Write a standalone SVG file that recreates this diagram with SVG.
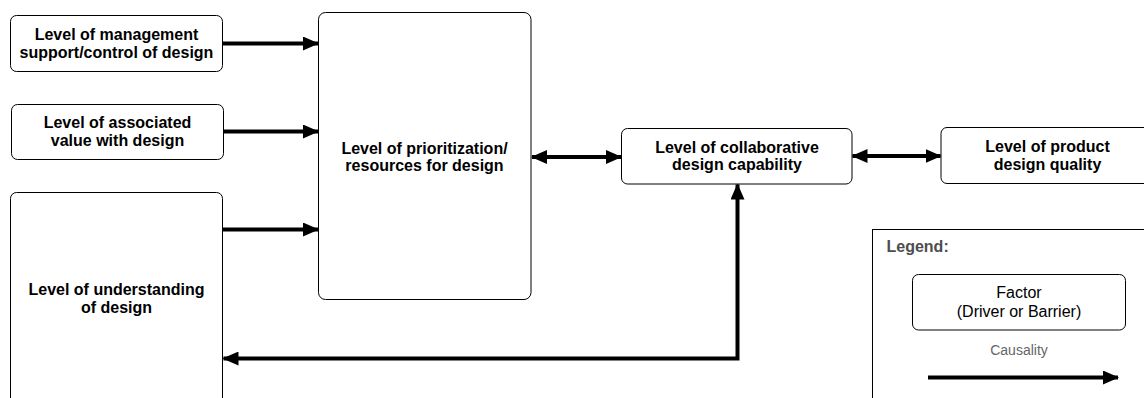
<svg xmlns="http://www.w3.org/2000/svg" width="1144" height="398" viewBox="0 0 1144 398">
  <style>
    .box { fill: #ffffff; stroke: #000000; stroke-width: 1; }
    .lbl { font-family: "Liberation Sans", Arial, sans-serif; font-size: 16px; font-weight: bold; fill: #000000; text-anchor: middle; }
    .norm { font-family: "Liberation Sans", Arial, sans-serif; font-size: 16px; fill: #000000; text-anchor: middle; }
    .leg { font-family: "Liberation Sans", Arial, sans-serif; font-size: 16px; font-weight: bold; fill: #4d4d4d; }
    .caus { font-family: "Liberation Sans", Arial, sans-serif; font-size: 14px; fill: #666666; text-anchor: middle; }
    .edge { fill: none; stroke: #000000; stroke-width: 4; }
  </style>
  <defs>
    <marker id="ah" markerUnits="userSpaceOnUse" markerWidth="16" markerHeight="14" refX="15" refY="7" orient="auto-start-reverse">
      <path d="M0,0 L16,7 L0,14 z" fill="#000000"/>
    </marker>
  </defs>
  <rect width="1144" height="398" fill="#ffffff"/>

  <g id="n-management">
    <rect class="box" x="10.5" y="15.5" width="212" height="56" rx="6"/>
    <text class="lbl" x="116.5" y="39.5">Level of management</text>
    <text class="lbl" x="116.5" y="57.5">support/control of design</text>
  </g>
  <g id="n-value">
    <rect class="box" x="11.5" y="104.5" width="212" height="55" rx="6"/>
    <text class="lbl" x="117.5" y="128">Level of associated</text>
    <text class="lbl" x="117.5" y="146">value with design</text>
  </g>
  <g id="n-understanding">
    <rect class="box" x="10.5" y="192.5" width="212" height="230" rx="6"/>
    <text class="lbl" x="116.5" y="295">Level of understanding</text>
    <text class="lbl" x="116.5" y="312.5">of design</text>
  </g>
  <g id="n-prioritization">
    <rect class="box" x="318.5" y="12.5" width="212.5" height="287" rx="7"/>
    <text class="lbl" x="424.5" y="153.5">Level of prioritization/</text>
    <text class="lbl" x="424.5" y="170.5">resources for design</text>
  </g>
  <g id="n-collaborative">
    <rect class="box" x="621.5" y="128.5" width="230.5" height="55.5" rx="6"/>
    <text class="lbl" x="737" y="152.5">Level of collaborative</text>
    <text class="lbl" x="737" y="169.5">design capability</text>
  </g>
  <g id="n-product">
    <rect class="box" x="941" y="127.5" width="213" height="56" rx="6"/>
    <text class="lbl" x="1047.5" y="152">Level of product</text>
    <text class="lbl" x="1047.5" y="169.5">design quality</text>
  </g>

  <g id="legend">
    <rect class="box" x="872.5" y="229.5" width="290" height="190"/>
    <text class="leg" x="886.5" y="252">Legend:</text>
    <rect class="box" x="912.5" y="274.5" width="213" height="55.5" rx="6" stroke="#333333"/>
    <text class="norm" x="1019" y="298">Factor</text>
    <text class="norm" x="1019" y="316.5">(Driver or Barrier)</text>
    <text class="caus" x="1019" y="355">Causality</text>
    <line class="edge" x1="928" y1="377.5" x2="1118" y2="377.5" marker-end="url(#ah)"/>
  </g>

  <g id="connectors">
    <line class="edge" x1="223" y1="43.5" x2="318" y2="43.5" marker-end="url(#ah)"/>
    <line class="edge" x1="224" y1="131.5" x2="318" y2="131.5" marker-end="url(#ah)"/>
    <line class="edge" x1="223" y1="229.5" x2="318" y2="229.5" marker-end="url(#ah)"/>
    <line class="edge" x1="532" y1="157" x2="621" y2="157" marker-start="url(#ah)" marker-end="url(#ah)"/>
    <line class="edge" x1="852.5" y1="156" x2="940.5" y2="156" marker-start="url(#ah)" marker-end="url(#ah)"/>
    <path class="edge" d="M223.5,358.5 H737.5 V184.5" marker-start="url(#ah)" marker-end="url(#ah)"/>
  </g>
</svg>
